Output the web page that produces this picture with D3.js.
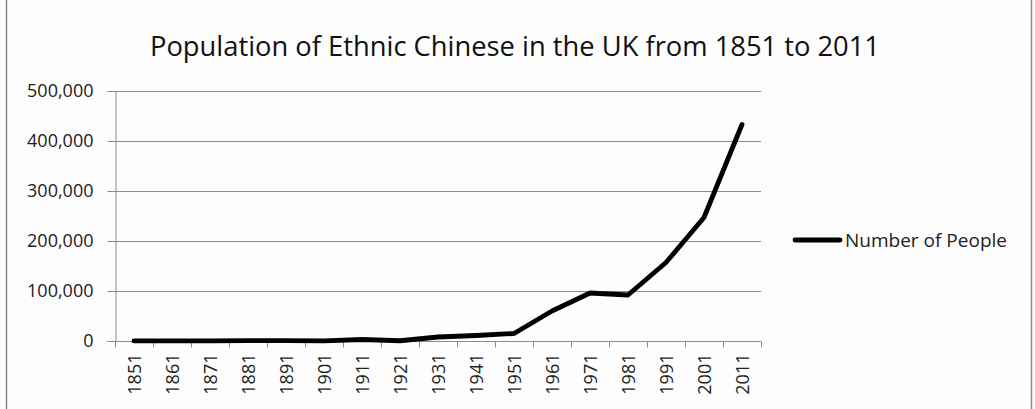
<!DOCTYPE html>
<html>
<head>
<meta charset="utf-8">
<script src="https://cdn.jsdelivr.net/npm/d3@7"></script>
<style>
  body { margin: 0; background: #fdfdfd; }
  svg { display: block; }
</style>
</head>
<body>
<div id="viscontainer"></div>
<script>
const years = ["1851", "1861", "1871", "1881", "1891", "1901", "1911", "1921", "1931",
  "1941", "1951", "1961", "1971", "1981", "1991", "2001", "2011"];
const people = [100, 200, 300, 600, 800, 400, 3000, 500, 8000,
  11000, 15000, 60000, 96000, 92000, 157000, 247000, 433000];
const yTicks = [0, 100000, 200000, 300000, 400000, 500000];
const seriesName = "Number of People";
const title = "Population of Ethnic Chinese in the UK from 1851 to 2011";

const width = 1035;
const height = 409;
const margin = { left: 115, right: 274, top: 91, bottom: 68 };
const font = "'Open Sans', 'DejaVu Sans', sans-serif";

const svg = d3.select("#viscontainer")
  .append("svg")
  .attr("width", width)
  .attr("height", height)
  .style("background", "#fdfdfd");

// outer frame lines
svg.append("line").attr("x1", 6.5).attr("x2", 6.5).attr("y1", 0).attr("y2", height)
  .attr("stroke", "#8a8a8a").attr("stroke-width", 1.5);
svg.append("line").attr("x1", 1031.5).attr("x2", 1031.5).attr("y1", 0).attr("y2", height)
  .attr("stroke", "#8a8a8a").attr("stroke-width", 1.5);

const x = d3.scaleBand()
  .domain(years)
  .range([margin.left, width - margin.right]);

const y = d3.scaleLinear()
  .domain([0, 500000])
  .range([height - margin.bottom, margin.top]);

// gridlines
svg.append("g")
  .selectAll("line")
  .data(yTicks.filter(d => d > 0))
  .join("line")
  .attr("x1", margin.left)
  .attr("x2", width - margin.right)
  .attr("y1", d => Math.round(y(d)) + 0.5)
  .attr("y2", d => Math.round(y(d)) + 0.5)
  .attr("stroke", "#8c8c8c")
  .attr("stroke-width", 1);

// y axis
const yAxis = svg.append("g")
  .attr("transform", `translate(${margin.left + 0.5},0)`)
  .call(d3.axisLeft(y).tickValues(yTicks).tickSize(8).tickPadding(14)
    .tickFormat(d3.format(",")));
yAxis.selectAll("path, line").attr("stroke", "#8c8c8c");
yAxis.selectAll("text")
  .attr("font-family", font)
  .attr("font-size", 18)
  .attr("fill", "#222");

// x axis with ticks between categories
const xAxis = svg.append("g")
  .attr("transform", `translate(0,${Math.round(y(0)) + 0.5})`);
xAxis.append("line")
  .attr("x1", margin.left - 8)
  .attr("x2", width - margin.right)
  .attr("stroke", "#8c8c8c");
xAxis.selectAll(".tk")
  .data(years.map(d => x(d)).concat([width - margin.right]))
  .join("line")
  .attr("class", "tk")
  .attr("x1", d => Math.round(d) + 0.5)
  .attr("x2", d => Math.round(d) + 0.5)
  .attr("y1", 0)
  .attr("y2", 6)
  .attr("stroke", "#8c8c8c");
xAxis.selectAll("text")
  .data(years)
  .join("text")
  .attr("transform", d => `translate(${x(d) + x.bandwidth() / 2 + 6.5},12) rotate(-90)`)
  .attr("text-anchor", "end")
  .attr("font-family", font)
  .attr("font-size", 18)
  .attr("fill", "#222")
  .text(d => d);

// data line
const line = d3.line()
  .x((d, i) => x(years[i]) + x.bandwidth() / 2)
  .y(d => y(d));

svg.append("path")
  .datum(people)
  .attr("d", line)
  .attr("fill", "none")
  .attr("stroke", "#000")
  .attr("stroke-width", 4.8)
  .attr("stroke-linejoin", "round")
  .attr("stroke-linecap", "round");

// title
svg.append("text")
  .attr("x", 150)
  .attr("y", 56)
  .attr("textLength", 730)
  .attr("lengthAdjust", "spacingAndGlyphs")
  .attr("font-family", font)
  .attr("font-size", 27)
  .attr("fill", "#111")
  .text(title);

// legend
const legend = svg.append("g").attr("transform", "translate(795,240)");
legend.append("line")
  .attr("x1", 0).attr("x2", 45)
  .attr("stroke", "#000")
  .attr("stroke-width", 4.8)
  .attr("stroke-linecap", "round");
legend.append("text")
  .attr("x", 50)
  .attr("y", 6.5)
  .attr("textLength", 162)
  .attr("lengthAdjust", "spacingAndGlyphs")
  .attr("font-family", font)
  .attr("font-size", 18)
  .attr("fill", "#222")
  .text(seriesName);
</script>
</body>
</html>
